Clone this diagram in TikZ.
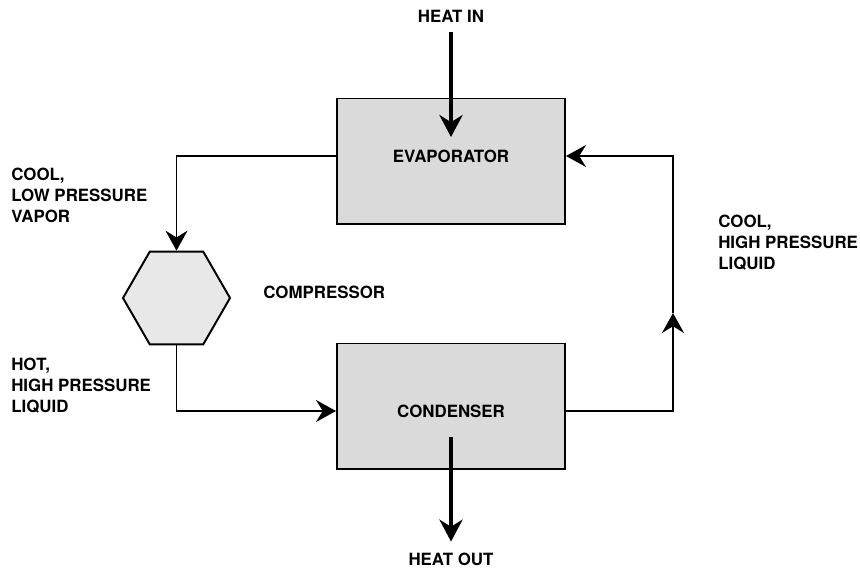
\documentclass[tikz,border=0pt]{standalone}
\usepackage{fontspec}
\setmainfont{TeX Gyre Heros}
\usepackage{tikz}
\usetikzlibrary{shapes.geometric,arrows.meta,positioning}
\definecolor{unitGray}{RGB}{218,218,218}
\definecolor{compGray}{RGB}{232,232,232}

\begin{document}
\begin{tikzpicture}[x=0.025cm,y=-0.025cm,
  unitbox/.style={draw,line width=1.4pt,fill=unitGray,minimum width=5.7cm,
                  minimum height=3.125cm,inner sep=0pt},
  comp/.style={draw,line width=1.4pt,fill=compGray,regular polygon,
               regular polygon sides=6,minimum size=2.675cm,inner sep=0pt},
  lbl/.style={font=\bfseries\fontsize{12}{15}\selectfont,inner sep=0pt},
  side/.style={lbl,align=left,anchor=north west},
  flow/.style={line width=1.4pt,-{Stealth[length=0.5cm,width=0.55cm,inset=0.17cm]}},
  heat/.style={line width=3pt,-{Stealth[length=0.55cm,width=0.58cm,inset=0.18cm]}},
]
\useasboundingbox (0,0) rectangle (860,568);

% units
\node[unitbox] (evap) at (451,161) {};
\node[unitbox] (cond) at (451,406) {};
\node[comp] (cmp) at (176.5,298) {};
\node[lbl] (evaptxt) at (451,156) {EVAPORATOR};
\node[lbl] (condtxt) at (451,411) {CONDENSER};
\node[lbl,anchor=west] (cmptxt) at (263,292) {COMPRESSOR};

% side labels
\node[side] (vapor) at (11,168) {COOL,\\LOW PRESSURE\\VAPOR};
\node[side] (hotliq) at (11,358) {HOT,\\HIGH PRESSURE\\LIQUID};
\node[side] (coolliq) at (718,215) {COOL,\\HIGH PRESSURE\\LIQUID};

% refrigerant loop
\coordinate (riser) at (673,313);
\draw[flow] (evap.west |- evaptxt) -| (cmp.north);
\draw[flow] (cmp.south) |- (cond.west |- condtxt);
\draw[flow] (cond.east |- condtxt) -| (riser);
\draw[flow] (riser) |- (evap.east |- evaptxt);

% heat flow
\node[lbl] (heatin) at (451,16) {HEAT IN};
\node[lbl] (heatout) at (451,559) {HEAT OUT};
\coordinate (hin) at (451,137);
\coordinate (hout) at (451,437);
\draw[heat,shorten <=0.25cm] (heatin.south) -- (hin);
\draw[heat,shorten >=0.27cm] (hout) -- (heatout.north);
\end{tikzpicture}
\end{document}
